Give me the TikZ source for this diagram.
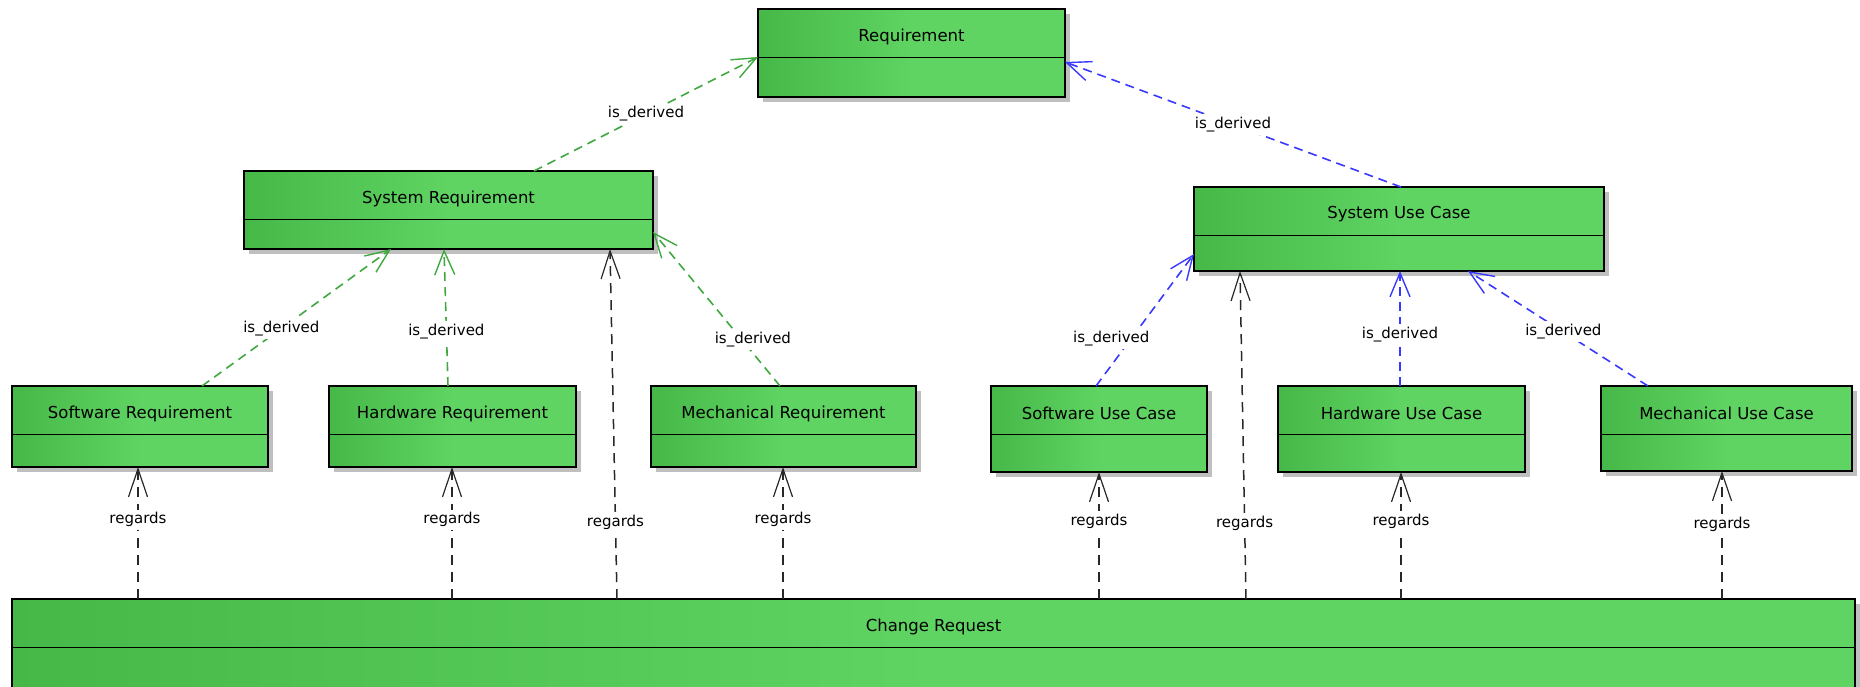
\documentclass[tikz,border=0pt]{standalone}
\usepackage{fontspec}
\setmainfont{DejaVu Sans}
\usepackage{tikz}
\usetikzlibrary{arrows.meta, positioning, shadows}
\definecolor{clsLeft}{RGB}{70,184,72}
\definecolor{clsRight}{RGB}{95,212,98}
\definecolor{derivGreen}{RGB}{64,168,64}
\definecolor{derivBlue}{RGB}{56,56,255}
\definecolor{regGray}{RGB}{40,40,40}

% class box: name, centre, width, height, title
\newcommand{\umlclass}[5]{%
  \node[Cls, minimum width=#3pt, minimum height=#4pt] (#1) at (#2) {};
  \draw[line width=1.4pt] ([yshift=-48.5pt]#1.north west) -- ([yshift=-48.5pt]#1.north east);
  \node[ClsText] (#1t) at ([yshift=-27.5pt]#1.north) {#5};
}

\begin{document}
\begin{tikzpicture}
  [
    x=1pt, y=-1pt,
    Cls/.style={draw=black, line width=1.4pt, outer sep=0pt, inner sep=0pt,
      left color=clsLeft, right color=clsRight, middle color=clsRight,
      drop shadow={shadow xshift=5pt, shadow yshift=-5pt, fill=black!25, opacity=1}},
    ClsText/.style={font=\fontsize{16.5}{19}\selectfont},
    Lbl/.style={fill=white, inner sep=3pt, font=\fontsize{15}{18}\selectfont},
    DerivG/.style={draw=derivGreen, line width=1.6pt, dash pattern=on 9pt off 6pt,
      -{Straight Barb[length=24pt, width=20pt, line width=1.4pt]}},
    DerivB/.style={DerivG, draw=derivBlue},
    Regards/.style={draw=regGray, line width=1.5pt, dash pattern=on 10pt off 7pt,
      -{Straight Barb[length=28pt, width=19pt, line width=1.2pt]}}
  ]
  \useasboundingbox (0,0) rectangle (1860,686);
  \clip (0,0) rectangle (1860,686);

  % Nodes
  \umlclass{req}{911.5,53}{307}{88}{Requirement}
  \umlclass{sysreq}{448.5,210}{409}{78}{System Requirement}
  \umlclass{sysuc}{1399,229}{410}{84}{System Use Case}

  \umlclass{swreq}{140,426.5}{256}{81}{Software Requirement}
  \umlclass{hwreq}{452.5,426.5}{247}{81}{Hardware Requirement}
  \umlclass{mechreq}{783.5,426.5}{265}{81}{Mechanical Requirement}
  \umlclass{swuc}{1099,429}{216}{86}{Software Use Case}
  \umlclass{hwuc}{1401.5,429}{247}{86}{Hardware Use Case}
  \umlclass{mechuc}{1726.5,428.5}{251}{85}{Mechanical Use Case}

  \umlclass{cr}{933.5,659.5}{1843}{121}{Change Request}

  % Lines: is_derived
  \path [DerivG] ([xshift=85.5pt]sysreq.north) -- node[Lbl, pos=0.5] {is\_derived} ([yshift=-48pt]req.north west);
  \path [DerivB] ([xshift=2pt]sysuc.north) -- node[Lbl, pos=0.5] {is\_derived} ([yshift=-53pt]req.north east);

  \path [DerivG] ([xshift=62pt]swreq.north) -- node[Lbl, pos=0.42] {is\_derived} ([xshift=-57.5pt]sysreq.south);
  \path [DerivG] ([xshift=-4.5pt]hwreq.north) -- node[Lbl, pos=0.4] {is\_derived} ([xshift=-4.5pt]sysreq.south);
  \path [DerivG] ([xshift=-3.5pt]mechreq.north) -- node[Lbl, pos=0.3, xshift=11pt] {is\_derived} ([yshift=17pt]sysreq.south east);

  \path [DerivB] ([xshift=-3pt]swuc.north) -- node[Lbl, pos=0.36, xshift=-20pt] {is\_derived} ([yshift=17pt]sysuc.south west);
  \path [DerivB] ([xshift=-1.5pt]hwuc.north) -- node[Lbl, pos=0.45] {is\_derived} ([xshift=1pt]sysuc.south);
  \path [DerivB] ([xshift=-78.5pt]mechuc.north) -- node[Lbl, pos=0.47] {is\_derived} ([xshift=69pt]sysuc.south);

  % Lines: regards
  \path [Regards] ([xshift=126pt]cr.north west) -- node[Lbl, pos=0.6] {regards} ([xshift=-2pt]swreq.south);
  \path [Regards] ([xshift=440pt]cr.north west) -- node[Lbl, pos=0.6] {regards} ([xshift=-0.5pt]hwreq.south);
  \path [Regards] ([xshift=605pt]cr.north west) -- node[Lbl, pos=0.22] {regards} ([xshift=161.5pt]sysreq.south);
  \path [Regards] ([xshift=771pt]cr.north west) -- node[Lbl, pos=0.6] {regards} ([xshift=-0.5pt]mechreq.south);
  \path [Regards] ([xshift=1087pt]cr.north west) -- node[Lbl, pos=0.61] {regards} (swuc.south);
  \path [Regards] ([xshift=1234pt]cr.north west) -- node[Lbl, pos=0.23] {regards} ([xshift=-159pt]sysuc.south);
  \path [Regards] ([xshift=1389pt]cr.north west) -- node[Lbl, pos=0.61] {regards} ([xshift=-0.5pt]hwuc.south);
  \path [Regards] ([xshift=1710pt]cr.north west) -- node[Lbl, pos=0.58] {regards} ([xshift=-4.5pt]mechuc.south);

\end{tikzpicture}
\end{document}
